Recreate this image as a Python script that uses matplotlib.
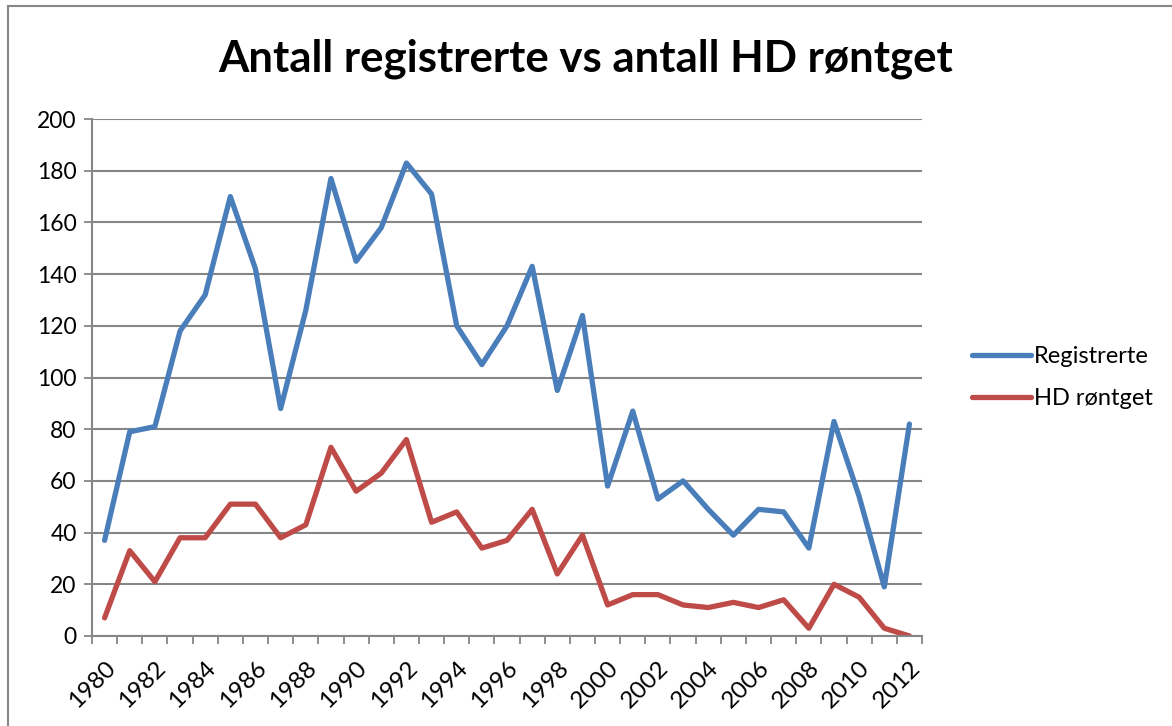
import matplotlib.pyplot as plt
import numpy as np
from matplotlib.lines import Line2D

plt.rcParams['font.family'] = ['Lato', 'DejaVu Sans']

years = list(range(1980, 2013))
registrerte = [37, 79, 81, 118, 132, 170, 142, 88, 126, 177, 145,
               158, 183, 171, 120, 105, 120, 143, 95, 124, 58,
               87, 53, 60, 49, 39, 49, 48, 34, 83, 54, 19, 82]
hd_rontget = [7, 33, 21, 38, 38, 51, 51, 38, 43, 73, 56,
              63, 76, 44, 48, 34, 37, 49, 24, 39, 12,
              16, 16, 12, 11, 13, 11, 14, 3, 20, 15, 3, 0]
year_labels = [str(y) for y in years[::2]]

fig = plt.figure(figsize=(11.72, 7.26), dpi=100)
ax = fig.add_axes([0.0785, 0.124, 0.7082, 0.712])

x = np.arange(len(years))
ax.plot(x, registrerte, color="#4A7EBB", lw=3.8, label="Registrerte",
        solid_joinstyle="round", solid_capstyle="round")
ax.plot(x, hd_rontget, color="#BE4B48", lw=3.8, label="HD røntget",
        solid_joinstyle="round", solid_capstyle="round")

ax.set_xlim(-0.5, len(years) - 0.5)
ax.set_ylim(0, 200)
ax.set_yticks(range(0, 201, 20))
ax.yaxis.grid(True, color="#868686", lw=1.5)
ax.set_axisbelow(True)

# category ticks between years, labels on every second year
ax.set_xticks(np.arange(-0.5, len(years), 1.0), minor=True)
ax.set_xticks(x[::2])
ax.set_xticklabels(year_labels, rotation=45, ha="right", rotation_mode="anchor")
ax.tick_params(axis="x", which="major", length=0, pad=15, labelsize=17.5)
ax.tick_params(axis="x", which="minor", length=6, color="#868686", width=1.3)
ax.tick_params(axis="y", length=6, color="#868686", width=1.3, labelsize=16.5, pad=5)

for s in ["top", "right"]:
    ax.spines[s].set_visible(False)
for s in ["left", "bottom"]:
    ax.spines[s].set_color("#868686")
    ax.spines[s].set_linewidth(1.5)

ax.set_title("Antall registrerte vs antall HD røntget", fontsize=31.5,
             fontweight="bold", x=0.595, y=1.075)

ax.legend(loc="center left", bbox_to_anchor=(1.035, 0.5), frameon=False,
          fontsize=17, handlelength=2.5, handletextpad=0.1, labelspacing=0.9)

# chart border (only left and top edges visible in the crop)
fig.add_artist(Line2D([8 / 1172, 8 / 1172], [0, 1 - 6 / 726], color="#868686", lw=1.5))
fig.add_artist(Line2D([8 / 1172, 1], [1 - 6 / 726, 1 - 6 / 726], color="#868686", lw=1.5))

fig.savefig("out.png", dpi=100)
